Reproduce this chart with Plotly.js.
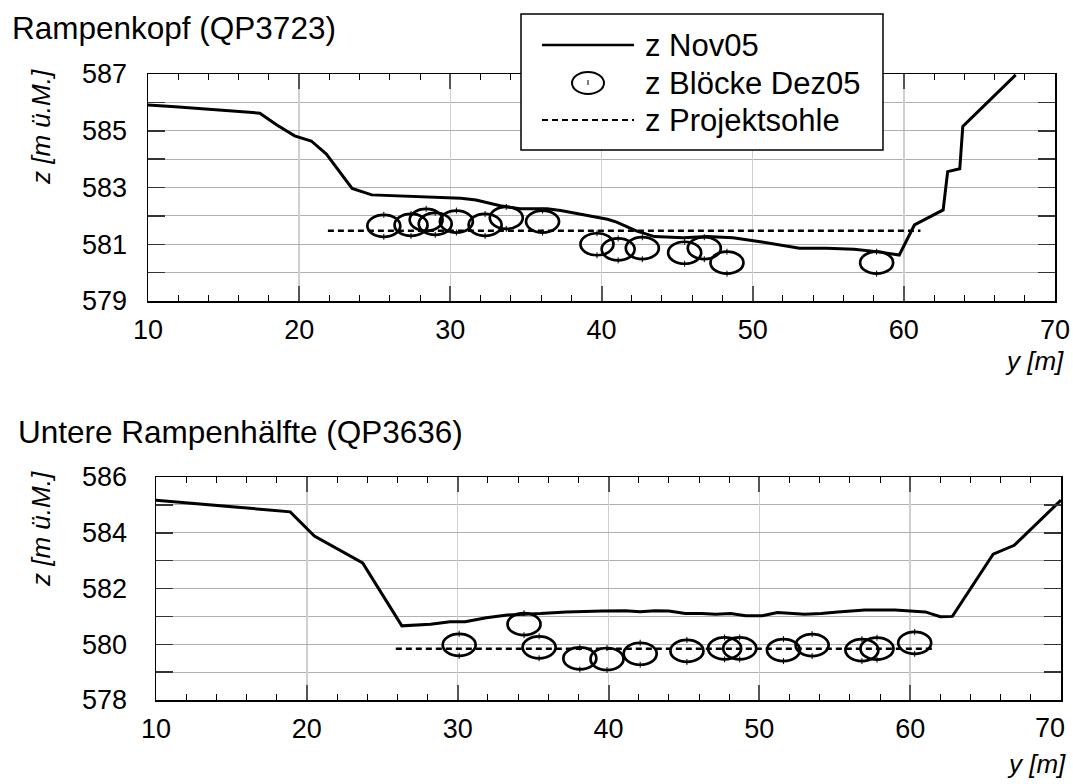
<!DOCTYPE html>
<html>
<head>
<meta charset="utf-8">
<script src="https://cdn.plot.ly/plotly-3.0.1.min.js"></script>
<style>html,body{margin:0;padding:0;background:#fff}#chart{width:1073px;height:784px}</style>
</head>
<body>
<div id="chart"></div>
<script>
// ---- Data: Rampenkopf (QP3723) ----
const topLineY = [10, 11.8, 17.4, 18.5, 19.7, 20.8, 21.8, 23.5, 24.8, 26.4, 28.4, 30.7, 31.7, 33.3, 34.6, 36.4, 37.3, 39.0, 40.4, 41.0, 42.3, 43.5, 45.4, 47.0, 48.7, 50.5, 53.1, 54.9, 56.7, 58.2, 59.7, 60.7, 62.6, 62.9, 63.7, 63.9, 67.4];
const topLineZ = [585.91, 585.85, 585.62, 585.21, 584.82, 584.64, 584.18, 582.97, 582.74, 582.71, 582.68, 582.62, 582.56, 582.36, 582.25, 582.25, 582.19, 582.03, 581.88, 581.78, 581.47, 581.27, 581.23, 581.27, 581.23, 581.09, 580.86, 580.86, 580.82, 580.74, 580.62, 581.68, 582.21, 583.56, 583.66, 585.15, 586.97];
const topBlockY = [25.6, 27.4, 28.4, 29.0, 30.4, 32.3, 33.7, 36.1, 39.7, 41.1, 42.7, 45.5, 46.8, 48.3, 58.2];
const topBlockZ = [581.65, 581.68, 581.86, 581.72, 581.80, 581.68, 581.93, 581.80, 581.00, 580.82, 580.86, 580.70, 580.86, 580.35, 580.35];
const topSohleY = [21.9, 61.1];
const topSohleZ = [581.48, 581.48];

// ---- Data: Untere Rampenhälfte (QP3636) ----
const botLineY = [10, 18.9, 20.5, 23.7, 26.3, 28.2, 29.5, 30.5, 31.9, 33.3, 35.5, 37.2, 39.6, 41.1, 42.1, 43.1, 44.0, 45.1, 46.2, 47.1, 48.1, 49.1, 50.2, 51.2, 53.0, 54.1, 55.2, 57.0, 59.0, 60.0, 61.0, 62.0, 62.8, 65.5, 66.9, 70];
const botLineZ = [585.17, 584.75, 583.88, 582.92, 580.66, 580.72, 580.81, 580.81, 580.95, 581.05, 581.10, 581.16, 581.19, 581.20, 581.17, 581.20, 581.19, 581.10, 581.10, 581.08, 581.10, 581.02, 581.02, 581.14, 581.08, 581.10, 581.16, 581.23, 581.23, 581.19, 581.16, 580.99, 581.00, 583.23, 583.55, 585.17];
const botBlockY = [30.1, 34.4, 35.4, 38.1, 39.9, 42.1, 45.2, 47.7, 48.7, 51.6, 53.5, 56.8, 57.8, 60.3];
const botBlockZ = [579.98, 580.72, 579.89, 579.49, 579.47, 579.66, 579.76, 579.85, 579.85, 579.79, 579.97, 579.79, 579.84, 580.05];
const botSohleY = [25.9, 61.7];
const botSohleZ = [579.84, 579.84];

// ---- Text / ticks ----
const titleTop = "Rampenkopf (QP3723)";
const titleBot = "Untere Rampenhälfte (QP3636)";
const zTitle = "z [m ü.M.]";
const yTitle = "y [m]";
const legendNames = ["z Nov05", "z Blöcke Dez05", "z Projektsohle"];
const xTickVals = [10, 20, 30, 40, 50, 60, 70];
const xTickValsBot = [10, 20, 30, 40, 50, 60];
const lastTickLabel = "70";

const W = 1073, H = 784;
const px = v => v / W;
const py = v => 1 - v / H;
const FONT = "Liberation Sans, Arial, Helvetica, sans-serif";

const traces = [
  {x: topLineY, y: topLineZ, xaxis: 'x', yaxis: 'y', mode: 'lines', line: {color: '#000', width: 3}, showlegend: false, hoverinfo: 'skip'},
  {x: topSohleY, y: topSohleZ, xaxis: 'x', yaxis: 'y', mode: 'lines', line: {color: '#000', width: 2.5, dash: '6px,4px'}, showlegend: false, hoverinfo: 'skip'},
  {x: botLineY, y: botLineZ, xaxis: 'x2', yaxis: 'y2', mode: 'lines', line: {color: '#000', width: 3}, showlegend: false, hoverinfo: 'skip'},
  {x: botSohleY, y: botSohleZ, xaxis: 'x2', yaxis: 'y2', mode: 'lines', line: {color: '#000', width: 2.5, dash: '6px,4px'}, showlegend: false, hoverinfo: 'skip'}
];

function ellipses(xs, zs, xr, yr) {
  const out = [];
  xs.forEach((v, i) => {
    out.push({
      type: 'circle', xref: xr, yref: yr,
      xsizemode: 'pixel', ysizemode: 'pixel',
      xanchor: v, yanchor: zs[i],
      x0: -16.5, x1: 16.5, y0: -11, y1: 11,
      line: {color: '#000', width: 2.7}, fillcolor: 'rgba(0,0,0,0)', layer: 'above'
    });
    [[8, 14], [-14, -8]].forEach(r => out.push({
      type: 'line', xref: xr, yref: yr,
      xsizemode: 'pixel', ysizemode: 'pixel',
      xanchor: v, yanchor: zs[i],
      x0: 0, x1: 0, y0: r[0], y1: r[1],
      line: {color: '#000', width: 1}, layer: 'above'
    }));
  });
  return out;
}

const shapes = [].concat(
  ellipses(topBlockY, topBlockZ, 'x', 'y'),
  ellipses(botBlockY, botBlockZ, 'x2', 'y2'),
  [
    // legend box
    {type: 'rect', xref: 'paper', yref: 'paper', x0: px(521), x1: px(883), y0: py(150), y1: py(14),
     line: {color: '#000', width: 1.5}, fillcolor: '#fff', layer: 'above'},
    {type: 'line', xref: 'paper', yref: 'paper', x0: px(542), x1: px(634), y0: py(45), y1: py(45),
     line: {color: '#000', width: 2.5}, layer: 'above'},
    {type: 'circle', xref: 'paper', yref: 'paper', x0: px(572), x1: px(604), y0: py(94), y1: py(72),
     line: {color: '#000', width: 2}, fillcolor: 'rgba(0,0,0,0)', layer: 'above'},
    {type: 'line', xref: 'paper', yref: 'paper', x0: px(588), x1: px(588), y0: py(85), y1: py(80),
     line: {color: '#000', width: 1}, layer: 'above'},
    {type: 'line', xref: 'paper', yref: 'paper', x0: px(542), x1: px(634), y0: py(120), y1: py(120),
     line: {color: '#000', width: 2, dash: '6px,4px'}, layer: 'above'}
  ]
);

const ann = (text, x, y, opts) => Object.assign({
  text: text, xref: 'paper', yref: 'paper', x: px(x), y: py(y), showarrow: false,
  xanchor: 'left', yanchor: 'middle', font: {family: FONT, size: 31, color: '#000'}
}, opts || {});

const annotations = [
  ann(titleTop, 10, 28, {font: {family: FONT, size: 31.5, color: '#000'}}),
  ann(titleBot, 16, 432, {font: {family: FONT, size: 31.5, color: '#000'}}),
  ann(zTitle, 41, 127, {textangle: -90, xanchor: 'center', font: {family: FONT, size: 26, color: '#000', style: 'italic'}}),
  ann(zTitle, 41, 529, {textangle: -90, xanchor: 'center', font: {family: FONT, size: 26, color: '#000', style: 'italic'}}),
  ann(yTitle, 1066, 361, {xanchor: 'right', font: {family: FONT, size: 26, color: '#000', style: 'italic'}}),
  ann(yTitle, 1068, 764, {xanchor: 'right', font: {family: FONT, size: 26, color: '#000', style: 'italic'}}),
  {text: lastTickLabel, xref: 'x2', yref: 'paper', x: 70, y: py(728), yanchor: 'middle', xanchor: 'right',
   xshift: 6, showarrow: false, font: {family: FONT, size: 27, color: '#000'}},
  ann(legendNames[0], 643, 45),
  ann(legendNames[1], 643, 83),
  ann(legendNames[2], 643, 120)
];

function xaxis(domain, anchor, labelVals) {
  return {
    domain: domain, anchor: anchor, range: [10, 70],
    tickmode: 'array', tickvals: labelVals, ticktext: labelVals.map(String),
    showline: true, linecolor: '#000', linewidth: 1.5, mirror: 'ticks',
    ticks: 'inside', ticklen: 15, tickwidth: 2, tickcolor: '#555',
    showgrid: true, gridcolor: '#cfcfcf', gridwidth: 1.5, zeroline: false,
    tickfont: {family: FONT, size: 27, color: '#000'}, ticklabelstandoff: 4,
    ticklabeloverflow: 'allow',
    minor: {dtick: 2, tick0: 10, ticks: 'inside', ticklen: 6, tickwidth: 1, tickcolor: '#000', showgrid: false},
    fixedrange: true
  };
}
function yaxis(domain, anchor, range, standoff) {
  return {
    domain: domain, anchor: anchor, range: range, dtick: 2, tick0: range[0],
    showline: true, linecolor: '#000', linewidth: 1.5, mirror: 'ticks',
    ticks: 'inside', ticklen: 17, tickwidth: 1.5, tickcolor: '#333',
    showgrid: true, gridcolor: '#b0b0b0', gridwidth: 1, zeroline: false,
    tickfont: {family: FONT, size: 27, color: '#000'}, ticklabelstandoff: standoff,
    ticklabeloverflow: 'allow',
    minor: {dtick: 1, ticks: 'inside', ticklen: 17, tickwidth: 1.5, tickcolor: '#333', showgrid: true, gridcolor: '#b0b0b0', gridwidth: 1},
    fixedrange: true
  };
}

const layout = {
  width: W, height: H,
  margin: {l: 0, r: 0, t: 0, b: 0},
  paper_bgcolor: '#fff', plot_bgcolor: '#fff',
  showlegend: false,
  xaxis: xaxis([px(148), px(1055)], 'y', xTickVals),
  yaxis: yaxis([py(301), py(74)], 'x', [579, 587], 14),
  xaxis2: xaxis([px(156), px(1061)], 'y2', xTickValsBot),
  yaxis2: yaxis([py(700), py(477)], 'x2', [578, 586], 22),
  shapes: shapes,
  annotations: annotations
};

Plotly.newPlot('chart', traces, layout, {displayModeBar: false, staticPlot: true});
</script>
</body>
</html>
